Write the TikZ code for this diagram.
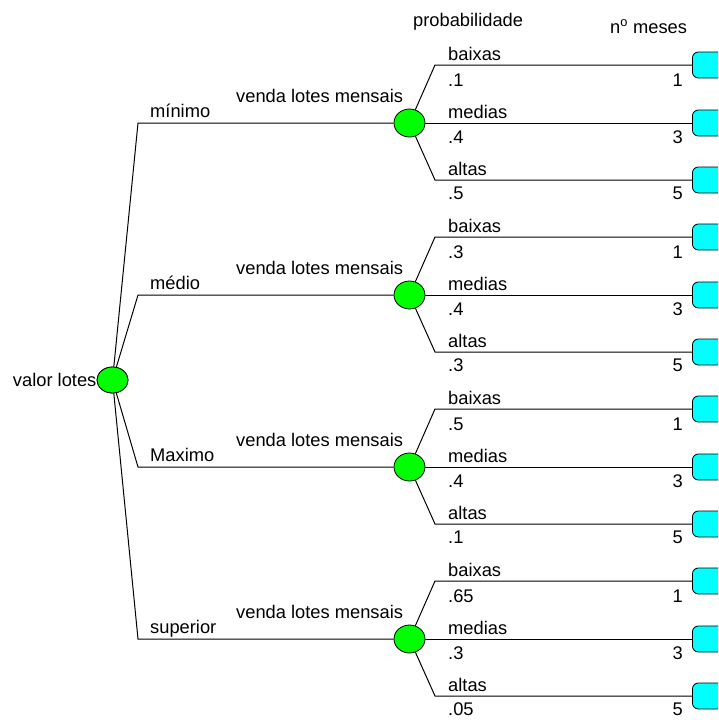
\documentclass[tikz,border=0pt]{standalone}
\usepackage{fontspec}
\setmainfont{Liberation Sans}
\usetikzlibrary{shapes.geometric}
\definecolor{nodegreen}{RGB}{0,255,0}
\definecolor{nodecyan}{RGB}{0,255,255}
\begin{document}
\begin{tikzpicture}[x=1pt,y=-1pt,
  chance/.style={ellipse, draw=black, fill=nodegreen, line width=0.8pt, minimum width=31pt, minimum height=28pt, inner sep=0pt},
  endbox/.style={draw=black, fill=nodecyan, rounded corners=6pt, line width=0.8pt, minimum width=44pt, minimum height=26pt, anchor=west, inner sep=0pt},
  lbl/.style={font=\fontsize{18.3}{20}\selectfont, inner sep=0pt},
  edge/.style={line width=1pt}]
\useasboundingbox (0,0) rectangle (718,720);
\clip (0,0) rectangle (718,720);
\fill[white] (0,0) rectangle (718,720);

\node[lbl, anchor=base west] (hprob) at (413,26) {probabilidade};
\node[lbl, anchor=base west] (hmes) at (610,33) {n\textsuperscript{o} meses};

\node[chance, minimum height=26pt] (root) at (112.5,380) {};

\foreach \g/\gy/\rl/\pa/\pb/\pc in {1/123/mínimo/.1/.4/.5, 2/295/médio/.3/.4/.3, 3/467/Maximo/.5/.4/.1, 4/639/superior/.65/.3/.05}{
  \coordinate (k\g) at (138,\gy);
  \coordinate (b\g1) at (435,\gy-58);
  \coordinate (b\g3) at (435,\gy+57);
  \node[chance] (c\g) at (409.5,\gy) {};
  \node[endbox] (e\g1) at (692,\gy-58) {};
  \node[endbox] (e\g2) at (692,\gy) {};
  \node[endbox] (e\g3) at (692,\gy+57) {};
  \draw[edge] (root) -- (k\g) -- (c\g);
  \draw[edge] (c\g) -- (b\g1) -- (e\g1);
  \draw[edge] (c\g) -- (e\g2);
  \draw[edge] (c\g) -- (b\g3) -- (e\g3);
  \node[lbl, anchor=base west] (rl\g) at (150,\gy-6) {\rl};
  \node[lbl, anchor=base west] (v\g) at (236,\gy-21) {venda lotes mensais};
  \node[lbl, anchor=base west] (n\g1) at (448,\gy-63) {baixas};
  \node[lbl, anchor=base west] (p\g1) at (448,\gy-37) {\pa};
  \node[lbl, anchor=base east] (m\g1) at (683,\gy-37) {1};
  \node[lbl, anchor=base west] (n\g2) at (448,\gy-5) {medias};
  \node[lbl, anchor=base west] (p\g2) at (448,\gy+20) {\pb};
  \node[lbl, anchor=base east] (m\g2) at (683,\gy+20) {3};
  \node[lbl, anchor=base west] (n\g3) at (448,\gy+52) {altas};
  \node[lbl, anchor=base west] (p\g3) at (448,\gy+76) {\pc};
  \node[lbl, anchor=base east] (m\g3) at (683,\gy+76) {5};
}
\node[chance, minimum height=26pt] (root2) at (112.5,380) {};
\node[lbl, anchor=east] (rootlbl) at (root2.west) {valor lotes};
\end{tikzpicture}
\end{document}
